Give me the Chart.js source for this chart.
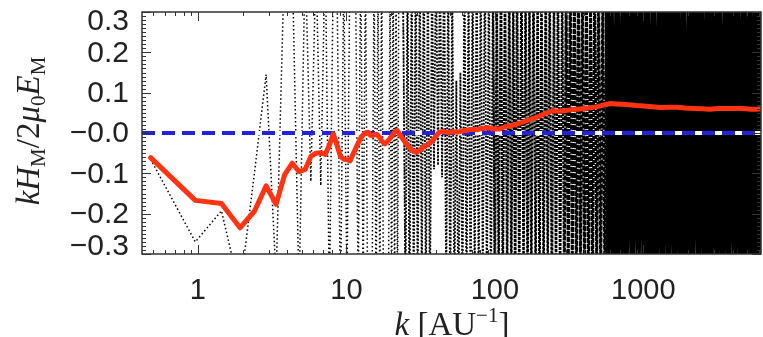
<!DOCTYPE html>
<html>
<head>
<meta charset="utf-8">
<script src="https://cdn.jsdelivr.net/npm/chart.js@4.4.0/dist/chart.umd.min.js"></script>
<style>
  html, body { margin: 0; padding: 0; background: #fff; }
</style>
</head>
<body>
<canvas id="myChart" width="763" height="337"></canvas>
<script>
// red curve: smoothed helicity ratio
const redK = [
  0.48, 0.96, 1.44, 1.92, 2.40, 2.88, 3.36, 3.84, 4.32, 4.80,
  5.28, 5.76, 6.24, 6.72, 7.20, 7.68, 8.16, 8.64, 9.12, 9.60,
  10.1, 10.6, 11.0, 11.5, 12.0, 12.5, 13.0, 13.4, 14.0, 14.4,
  15.0, 15.4, 16.0, 16.8, 17.3, 18.2, 19.2, 20.2, 21.1, 22.0,
  23.0, 24.0, 25.0, 26.4, 27.8, 29.3, 30.7, 32.2, 33.6, 35.0,
  36.5, 38.4, 40.3, 42.2, 44.6, 48, 52, 56, 60, 65,
  70, 76, 83, 90, 98, 108, 118, 128, 140, 152,
  165, 180, 200, 220, 245, 270, 300, 330, 360, 400,
  450, 500, 550, 600, 660, 720, 800, 900, 1000, 1150,
  1300, 1500, 1700, 1900, 2200, 2500, 2800, 3200, 3600, 4100,
  4700, 5300, 5800, 6200
];
const redV = [
  -0.061, -0.167, -0.175, -0.235, -0.194, -0.131, -0.177, -0.103, -0.075, -0.096,
  -0.090, -0.058, -0.050, -0.049, -0.053, -0.030, -0.002, -0.030, -0.058, -0.065,
  -0.066, -0.069, -0.055, -0.040, -0.025, -0.012, -0.004, 0.000, 0.002, -0.005,
  -0.007, -0.004, -0.003, -0.012, -0.020, -0.027, -0.018, -0.008, 0.002, 0.006,
  -0.005, -0.015, -0.024, -0.035, -0.043, -0.048, -0.045, -0.038, -0.033, -0.030,
  -0.024, -0.018, -0.006, 0.002, 0.004, 0.001, 0.003, 0.002, 0.005, 0.007,
  0.009, 0.008, 0.012, 0.013, 0.010, 0.010, 0.016, 0.018, 0.022, 0.026,
  0.031, 0.036, 0.042, 0.049, 0.055, 0.054, 0.056, 0.058, 0.059, 0.061,
  0.063, 0.066, 0.070, 0.073, 0.072, 0.071, 0.070, 0.068, 0.067, 0.065,
  0.063, 0.064, 0.064, 0.062, 0.061, 0.060, 0.059, 0.061, 0.061, 0.061,
  0.061, 0.059, 0.059, 0.060
];

// dotted curve: per-shell values (mostly off scale)
const dotK = [
  0.48, 0.96, 1.44, 1.92, 2.40, 2.88, 3.36, 3.84, 4.32, 4.80,
  5.28, 5.76, 6.24, 6.72, 7.20, 7.68, 8.16, 8.64, 9.12, 9.60,
  10.08, 10.56, 11.04, 11.52, 12.00, 12.48, 12.96, 13.44, 13.92, 14.40,
  14.88, 15.36, 15.84, 16.32, 16.80, 17.28, 17.76, 18.24, 18.72, 19.20,
  19.68, 20.16, 20.64, 21.12, 21.60, 22.08, 22.56, 23.04, 23.52, 24.00,
  25, 25.8, 26.6, 27.5, 28.4, 29.3, 30.2, 31.2, 32.2, 33.2,
  34.3, 35.4, 36.5, 37.7, 38.9, 40.1, 41.4, 42.7, 44.1, 45.5,
  47, 48.5, 50, 51.6, 53.3, 55, 56.8, 58.6, 60.5, 62.4,
  64.4, 66.5, 68.6, 70.8, 73.1, 75.4, 77.8, 80.3, 82.9, 85.6,
  88.3, 91.1, 94, 97, 100, 103, 106, 110, 113, 117,
  121, 125, 129, 133, 137, 141, 146, 151, 156, 161,
  166, 171, 176, 182, 188, 194, 200, 206, 213, 220,
  227, 234, 242, 250, 258, 266, 275, 284, 293, 302,
  312, 322, 332, 343, 354, 365, 377, 389, 401, 414,
  427, 441, 455, 470, 485, 500, 516, 533, 550, 568,
  586, 605,
  635, 665, 697, 730, 765, 802, 840, 880, 922, 966,
  1012, 1060, 1110, 1165, 1220, 1280, 1340, 1405, 1470, 1540,
  1615, 1690, 1770, 1855, 1945, 2040, 2135, 2240, 2345, 2460,
  2575, 2700, 2830, 2965, 3105, 3255, 3410, 3575, 3745, 3925,
  4110, 4310, 4515, 4730, 4960, 5195, 5445, 5705, 5980, 6200
];
const dotV = [
  -0.065, -0.27, -0.193, -0.39, -0.10, 0.145, -0.36, 0.45, 0.42, -0.40,
  0.44, -0.12, 0.43, -0.13, 0.46, -0.42, 0.41, 0.38, -0.44, 0.40,
  -0.40, 0.43, 0.39, 0.41, -0.42, 0.45, -0.38, 0.42, -0.44, -0.40,
  -0.41, 0.43, -0.45, 0.40, -0.42, 0.44, -0.40, -0.43, -0.39, -0.42,
  0.41, -0.44, 0.46, -0.41, 0.40, -0.45, 0.43, 0.41, 0.44, 0.42,
  -0.44, 0.41, -0.47, 0.43, -0.40, 0.46, -0.42, 0.45, -0.39, 0.48,
  -0.43, 0.44, -0.46, 0.41, -0.09, 0.45, -0.08, 0.42, -0.11, 0.47,
  -0.41, 0.44, -0.46, 0.40, -0.43, 0.13, -0.45, 0.15, -0.42, 0.46,
  -0.44, 0.41, -0.47, 0.43, -0.40, 0.46, -0.42, 0.45, -0.39, 0.48,
  -0.43, 0.44, -0.46, 0.41, -0.45, 0.42, -0.40, 0.47, -0.44, 0.43,
  -0.41, 0.45, -0.43, 0.40, -0.47, 0.44, -0.42, 0.46, -0.40, 0.43,
  -0.46, 0.42, -0.44, 0.47, -0.41, 0.40, -0.45, 0.43, -0.42, 0.46,
  -0.40, 0.44, -0.47, 0.41, -0.43, 0.45, -0.44, 0.42, -0.46, 0.40,
  -0.42, 0.47, -0.41, 0.43, -0.45, 0.44, -0.40, 0.46, -0.43, 0.41,
  -0.47, 0.42, -0.44, 0.45, -0.40, 0.43, -0.46, 0.41, -0.42, 0.44,
  -0.45, 0.42,
  -0.44, 0.41, -0.47, 0.43, -0.40, 0.46, -0.42, 0.45, -0.39, 0.48,
  -0.43, 0.44, -0.46, 0.41, -0.45, 0.42, -0.40, 0.47, -0.44, 0.43,
  -0.41, 0.45, -0.43, 0.40, -0.47, 0.44, -0.42, 0.46, -0.40, 0.43,
  -0.46, 0.42, -0.44, 0.47, -0.41, 0.40, -0.45, 0.43, -0.42, 0.46,
  -0.40, 0.44, -0.47, 0.41, -0.43, 0.45, -0.44, 0.42, -0.46, 0.40
];

// zero reference line
const zeroK = [0.42, 6200];
const zeroV = [0, 0];

const xTickLabels = [1, 10, 100, 1000];
const yTickLabels = [-0.3, -0.2, -0.1, 0, 0.1, 0.2, 0.3];

const pts = (ks, vs) => ks.map((k, i) => ({ x: k, y: vs[i] }));

// points with lo <= k <= hi, plus the point just before lo so pieces join up
function band(ks, vs, lo, hi) {
  const out = [];
  ks.forEach((k, i) => {
    if ((k >= lo && k <= hi) || (k < lo && ks[i + 1] >= lo)) out.push({ x: k, y: vs[i] });
  });
  return out;
}

function fmtY(v) {
  if (v === 0) return "\u22120.0";
  return v < 0 ? "\u2212" + Math.abs(v).toFixed(1) : v.toFixed(1);
}

// draw a run of text pieces [text, font, dy], centered on cx
function drawPieces(ctx, parts, cx, baseY) {
  let total = 0;
  parts.forEach((p) => { ctx.font = p[1]; total += ctx.measureText(p[0]).width; });
  let x = cx - total / 2;
  parts.forEach((p) => {
    ctx.font = p[1];
    ctx.fillText(p[0], x, baseY + p[2]);
    x += ctx.measureText(p[0]).width;
  });
}

const frame = {
  id: "frame",
  afterDatasetsDraw(chart) {
    const { ctx, chartArea: a, scales } = chart;
    const x = scales.x, y = scales.y;
    ctx.save();
    ctx.strokeStyle = "#333";
    ctx.lineWidth = 1.5;
    ctx.strokeRect(a.left, a.top, a.right - a.left, a.bottom - a.top);

    ctx.lineWidth = 1;
    ctx.beginPath();
    for (let i = -30; i <= 30; i++) {
      const py = Math.round(y.getPixelForValue(i / 100)) + 0.5;
      const len = i % 10 === 0 ? 9 : 4;
      ctx.moveTo(a.left, py); ctx.lineTo(a.left + len, py);
      ctx.moveTo(a.right, py); ctx.lineTo(a.right - len, py);
    }
    for (let d = 0.1; d < 10000; d *= 10) {
      for (let m = 1; m <= 9; m++) {
        const v = m * d;
        if (v < x.min || v > x.max) continue;
        const px = Math.round(x.getPixelForValue(v)) + 0.5;
        const len = m === 1 ? 9 : 4;
        ctx.moveTo(px, a.bottom); ctx.lineTo(px, a.bottom - len);
        ctx.moveTo(px, a.top); ctx.lineTo(px, a.top + len);
      }
    }
    ctx.stroke();
    ctx.restore();
  },
  afterDraw(chart) {
    const { ctx, scales } = chart;
    const x = scales.x, y = scales.y;
    ctx.save();
    ctx.fillStyle = "#222";

    // y tick labels
    ctx.font = '30px "Liberation Sans"';
    ctx.textAlign = "right";
    ctx.textBaseline = "middle";
    yTickLabels.forEach((v) => {
      let py = y.getPixelForValue(v);
      if (v === 0.3) py += 9;
      if (v === -0.3) py -= 8;
      ctx.fillText(fmtY(v), 129, py + 1);
    });

    // x tick labels
    ctx.font = '29px "Liberation Sans"';
    ctx.textAlign = "center";
    xTickLabels.forEach((v) => {
      ctx.fillText(String(v), x.getPixelForValue(v), 291);
    });

    // axis titles
    ctx.textAlign = "left";
    ctx.textBaseline = "alphabetic";
    const it = 'italic 33px "Liberation Serif"';
    const up = '33px "Liberation Serif"';
    const sm = '21px "Liberation Serif"';
    drawPieces(ctx, [["k", it, 0], [" [AU", up, 0], ["\u22121", sm, -13], ["]", up, 0]], 452, 335);

    ctx.translate(28, 131);
    ctx.rotate(-Math.PI / 2);
    drawPieces(ctx, [
      ["k", it, 0], ["H", it, 0], ["M", sm, 6], ["/", up, 0], ["2", up, 0],
      ["\u03bc", it, 0], ["0", sm, 6], ["E", it, 0], ["M", sm, 6]
    ], 0, 11);
    ctx.restore();
  }
};

const line0 = { pointRadius: 0, tension: 0 };

new Chart(document.getElementById("myChart"), {
  type: "line",
  data: {
    datasets: [
      Object.assign({
        data: pts(redK, redV),
        borderColor: "#ff3311",
        borderWidth: 5,
        borderJoinStyle: "round",
        borderCapStyle: "round",
        order: 0,
      }, line0),
      Object.assign({
        data: pts(zeroK, zeroV),
        borderColor: "#2222dd",
        borderWidth: 4,
        borderDash: [13, 7],
        order: 1,
      }, line0),
      Object.assign({
        data: pts(zeroK, zeroV),
        borderColor: "#ffffff",
        borderWidth: 4,
        order: 2,
      }, line0),
      // dotted curve drawn in k-bands: sparse, dense, saturated
      Object.assign({
        data: band(dotK, dotV, 0, 25),
        borderColor: "#000",
        borderWidth: 1.5,
        borderDash: [1.5, 2.5],
        clip: 0,
        order: 3,
      }, line0),
      Object.assign({
        data: band(dotK, dotV, 25, 100),
        borderColor: "#000",
        borderWidth: 1.8,
        borderDash: [2, 1.5],
        clip: 0,
        order: 4,
      }, line0),
      Object.assign({
        data: band(dotK, dotV, 100, 300),
        borderColor: "#000",
        borderWidth: 2.1,
        borderDash: [3, 1],
        clip: 0,
        order: 5,
      }, line0),
      Object.assign({
        data: band(dotK, dotV, 300, 800),
        borderColor: "#000",
        borderWidth: 2.6,
        borderDash: [5, 1],
        clip: 0,
        order: 6,
      }, line0),
      Object.assign({
        data: band(dotK, dotV, 580, 6200),
        borderColor: "#000",
        borderWidth: 5,
        clip: 0,
        order: 7,
      }, line0),
    ],
  },
  options: {
    responsive: false,
    animation: false,
    events: [],
    layout: { padding: { top: 12, right: 2, left: 0, bottom: 0 } },
    plugins: {
      legend: { display: false },
      tooltip: { enabled: false },
    },
    scales: {
      x: {
        type: "logarithmic",
        min: 0.42,
        max: 6200,
        ticks: { display: false },
        grid: { display: false },
        border: { display: false },
        afterFit: (s) => { s.height = 83; },
      },
      y: {
        min: -0.3,
        max: 0.3,
        ticks: { display: false },
        grid: { display: false },
        border: { display: false },
        afterFit: (s) => { s.width = 142; },
      },
    },
  },
  plugins: [frame],
});
</script>
</body>
</html>
